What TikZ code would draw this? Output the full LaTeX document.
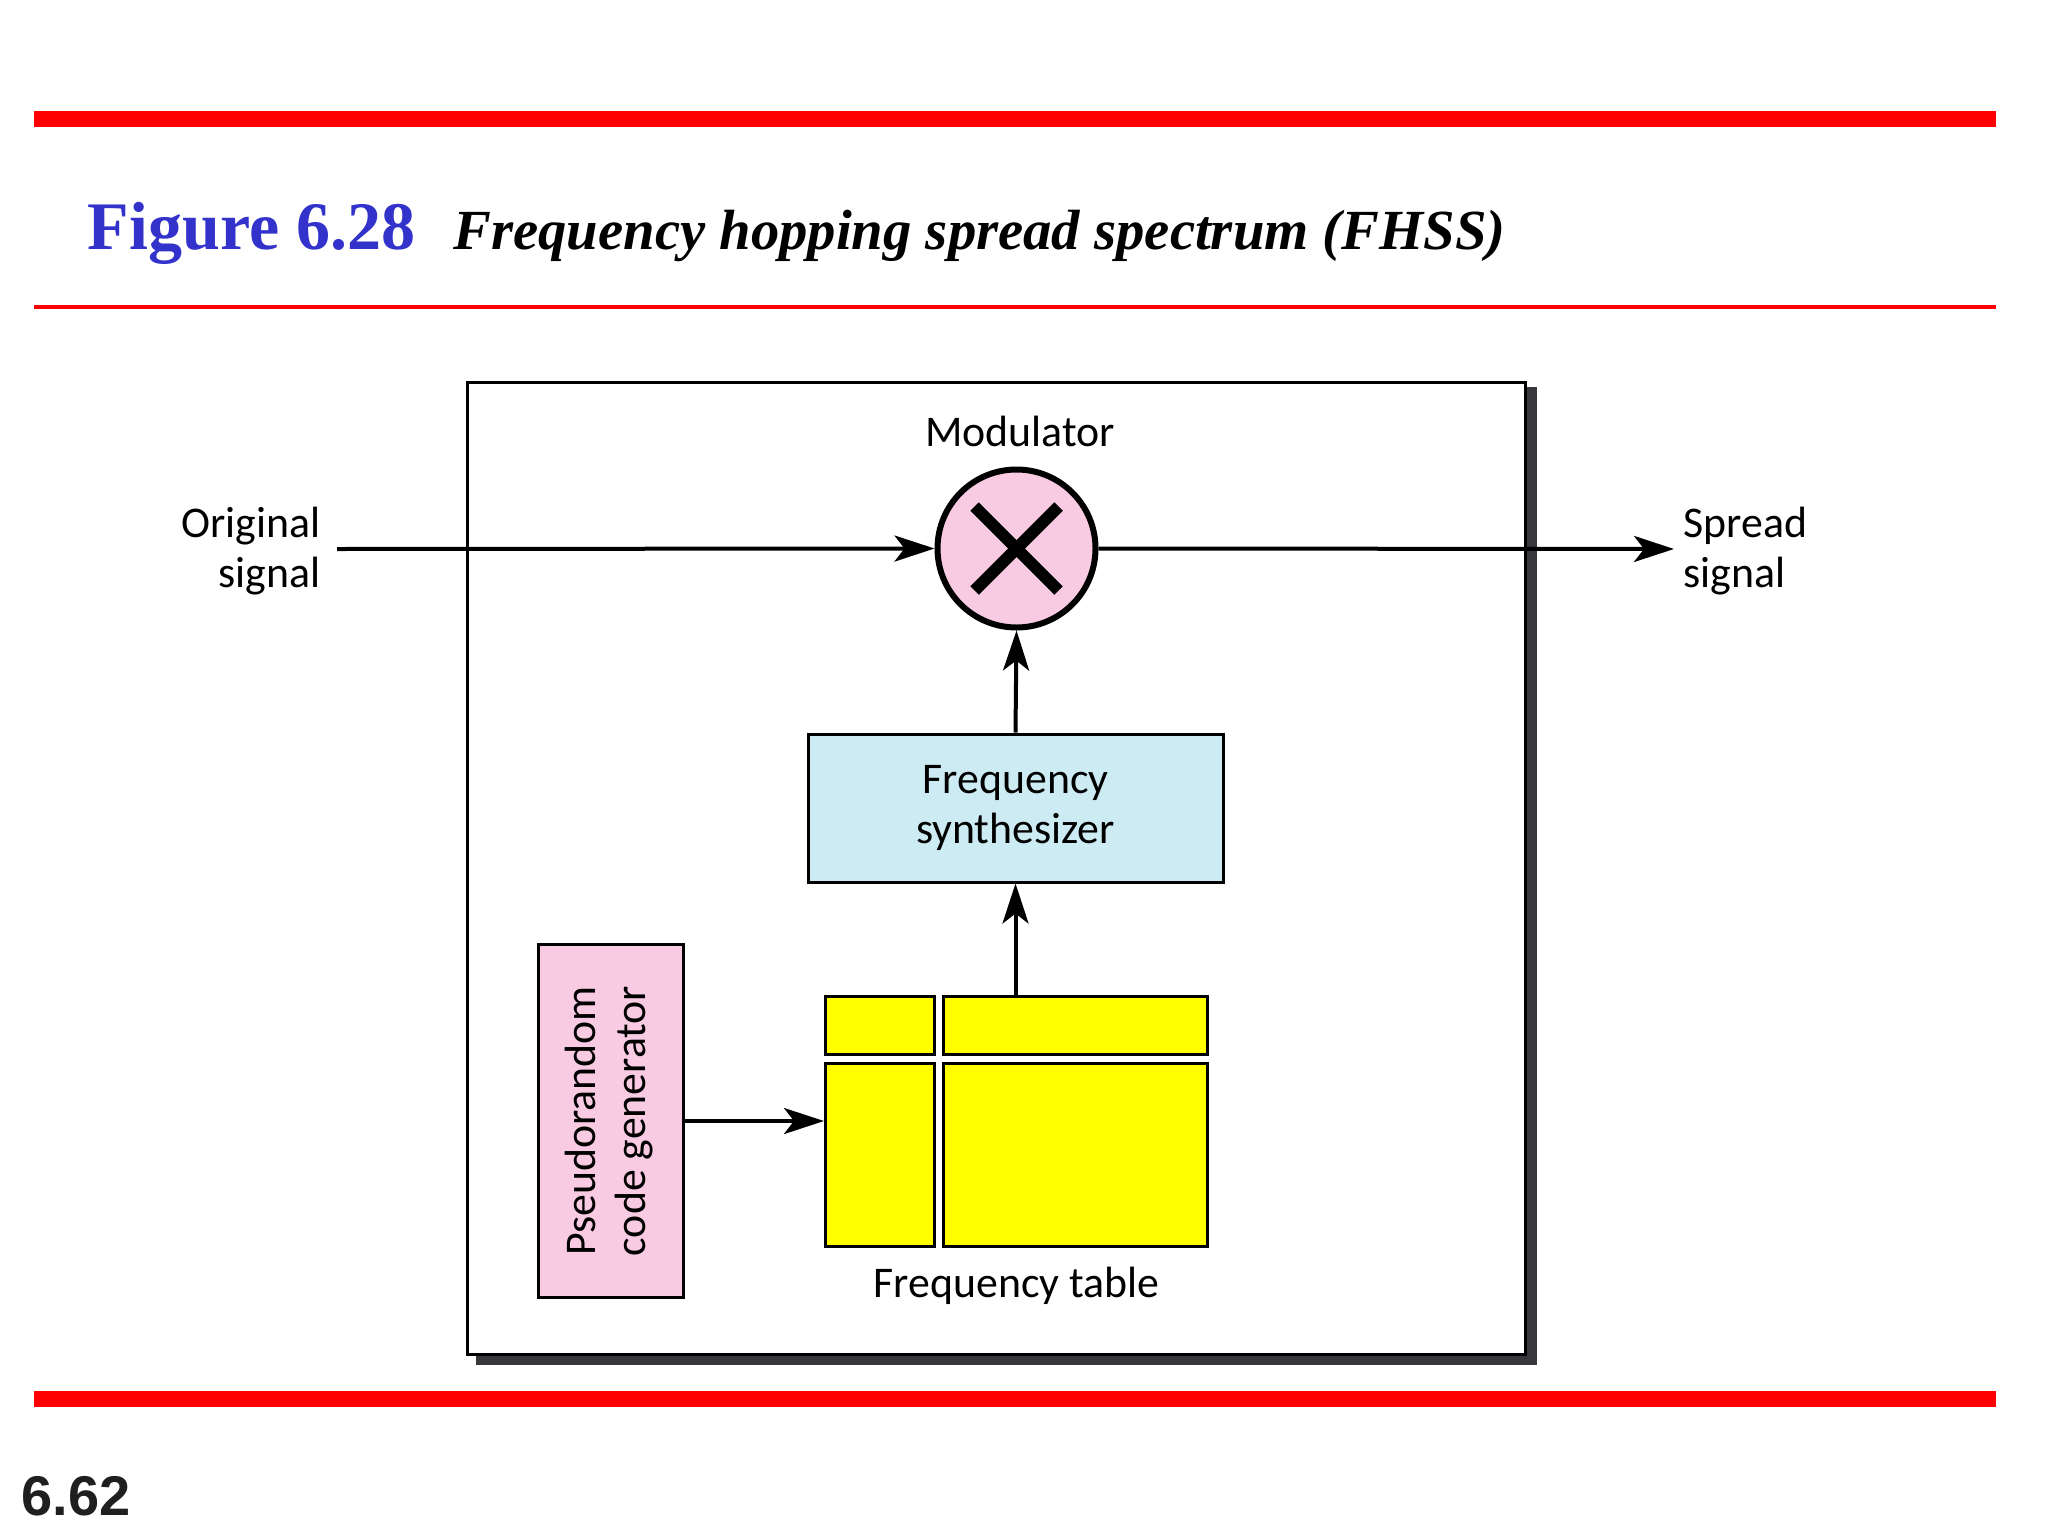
\documentclass[tikz,border=0pt]{standalone}
\usepackage{fontspec}
\setmainfont{Liberation Serif}
\newfontfamily\diagfont{Carlito}
\newfontfamily\numfont{Liberation Sans}
\usetikzlibrary{arrows.meta}
\definecolor{figblue}{RGB}{51,51,204}
\definecolor{barred}{RGB}{255,0,0}
\definecolor{pinkfill}{RGB}{249,203,226}
\definecolor{bluefill}{RGB}{204,235,243}
\definecolor{yellowfill}{RGB}{255,255,0}
\definecolor{shadowgray}{RGB}{55,55,60}
\begin{document}
\begin{tikzpicture}[x=0.5pt,y=-0.5pt,
  lbl/.style={font=\diagfont\fontsize{21.9}{25}\selectfont, inner sep=0pt},
  conn/.style={line width=2pt, -{Stealth[length=20pt,width=13pt,inset=5pt]}},
  blockbox/.style={draw, line width=1.5pt, inner sep=0pt, align=center, font=\diagfont\fontsize{21.9}{25}\selectfont},
  cell/.style={draw, line width=1.5pt, fill=yellowfill, inner sep=0pt},
  redbar/.style={fill=barred, draw=none}]
\useasboundingbox (0,0) rectangle (2048,1536);
\fill[white] (0,0) rectangle (2048,1536);
% red rules
\fill[redbar] (34,111) rectangle (1996,127);
\fill[redbar] (34,305) rectangle (1996,309);
\fill[redbar] (34,1391) rectangle (1996,1407);
% title
\node[anchor=base west, inner sep=0pt, text=figblue, font=\bfseries\fontsize{34}{40}\selectfont] (fignum) at (87.5,249) {Figure 6.28};
\node[anchor=base west, inner sep=0pt, font=\bfseries\itshape\fontsize{28.35}{34}\selectfont] (figtitle) at (453,249) {Frequency hopping spread spectrum (FHSS)};
\node[anchor=base west, inner sep=0pt, text=black!88, font=\numfont\bfseries\fontsize{28}{34}\selectfont] (pagenum) at (21,1515) {6.62};
% frame with shadow
\fill[shadowgray] (476,387) rectangle (1537,1365);
\node[draw, fill=white, line width=1.5pt, minimum width=529pt, minimum height=486pt, inner sep=0pt] (frame) at (996.5,868.5) {};
% modulator
\node[circle, draw, line width=3pt, fill=pinkfill, minimum size=79pt, inner sep=0pt] (mod) at (1016.5,548.5) {};
\draw[line width=6pt] ([shift={(-42,-42)}]mod.center) -- ([shift={(42,42)}]mod.center);
\draw[line width=6pt] ([shift={(-42,42)}]mod.center) -- ([shift={(42,-42)}]mod.center);
\node[lbl, anchor=base] (modlbl) at (1020,446) {Modulator};
% signals
\node[lbl, anchor=base east, align=right] (orig) at (321,587) {Original\\signal};
\node[lbl, anchor=base west, align=left] (spread) at (1683,587) {Spread\\signal};
\coordinate (insrc) at (337,549);
\coordinate (outend) at (1674,549);
\draw[conn] (insrc) -- (mod.west);
\draw[conn] (mod.east) -- (outend);
% synthesizer
\node[blockbox, fill=bluefill, minimum width=207.5pt, minimum height=74pt] (synth) at (1015.5,808) {Frequency\\synthesizer};
% frequency table
\node[cell, minimum width=54.5pt, minimum height=29pt] (tl) at (880,1025.5) {};
\node[cell, minimum width=131.75pt, minimum height=29pt] (tr) at (1075.25,1025.5) {};
\node[cell, minimum width=54.5pt, minimum height=91.5pt] (bl) at (880,1155) {};
\node[cell, minimum width=131.75pt, minimum height=91.5pt] (br) at (1075.25,1155) {};
\node[lbl, anchor=base] (tablelbl) at (1016.7,1297.7) {Frequency table};
% pseudorandom generator
\node[blockbox, fill=pinkfill, minimum width=72.5pt, minimum height=176.75pt] (pr) at (610.5,1121) {\rotatebox{90}{\begin{tabular}{@{}c@{}}Pseudorandom\\code generator\end{tabular}}};
% connectors
\draw[conn] (synth.north) -- (mod.south);
\draw[conn] (tr.north -| synth.south) -- (synth.south);
\draw[conn] (pr.east) -- (pr.east -| bl.west);
\end{tikzpicture}
\end{document}
